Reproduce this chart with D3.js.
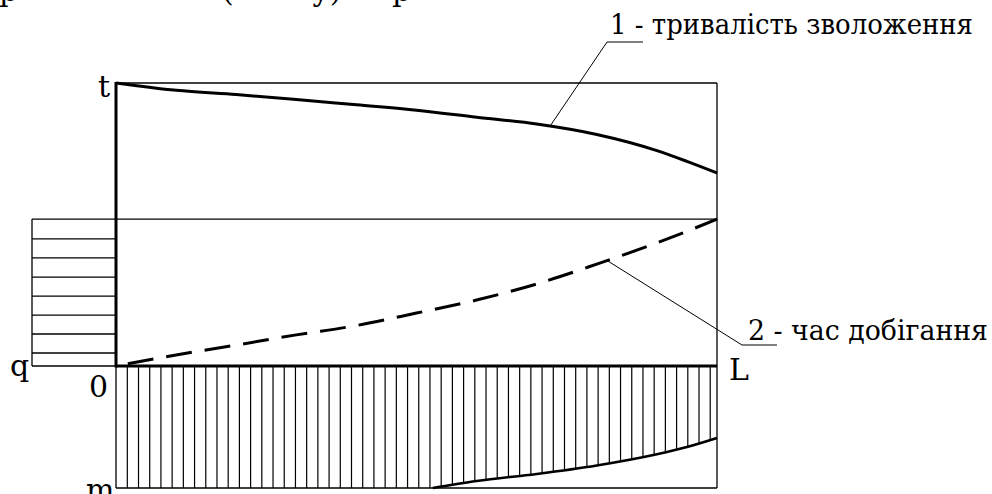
<!DOCTYPE html>
<html><head><meta charset="utf-8">
<script src="https://cdn.jsdelivr.net/npm/d3@7"></script>
<style>
html,body{margin:0;padding:0;background:#fff;}
svg{display:block;}
</style></head>
<body>
<svg id="c" width="992" height="494"></svg>
<script>
// ---- data ----
const xPos = [0, 0.1, 0.2, 0.3, 0.4, 0.5, 0.6, 0.7, 0.8, 0.9, 0.95, 1.0];
const wettingDuration = [1.0, 0.974, 0.959, 0.942, 0.923, 0.904, 0.879, 0.855, 0.818, 0.761, 0.723, 0.682];
const travelTime = [0, 0.039, 0.074, 0.110, 0.143, 0.187, 0.233, 0.290, 0.360, 0.435, 0.476, 0.519];
const mX = [0, 0.527, 0.6, 0.7, 0.8, 0.9, 0.95, 1.0];
const mDepth = [1.0, 1.0, 0.943, 0.885, 0.815, 0.723, 0.664, 0.59];
const rainLevels = [0.519, 0.449, 0.382, 0.314, 0.247, 0.180, 0.113, 0.046, 0];
const axisLabels = ["t", "q", "0", "L", "m"];
const seriesLabels = ["1 - тривалість зволоження", "2 - час добігання"];
const topFragments = ["р", "(", "у)", "р"];

// ---- layout ----
const FONT = "DejaVu Serif";
const svg = d3.select("#c");
const x = d3.scaleLinear().domain([0, 1]).range([116, 717]);
const t = d3.scaleLinear().domain([0, 1]).range([366, 83]);
const mY = d3.scaleLinear().domain([0, 1]).range([366, 488]);
const rainX = [32, 116];

function interp(xs, ys, v){
  for(let i=1;i<xs.length;i++){
    if(v<=xs[i]){const f=(v-xs[i-1])/(xs[i]-xs[i-1]);return ys[i-1]+f*(ys[i]-ys[i-1]);}
  }
  return ys[ys.length-1];
}
function txt(s, px, py, size){
  return svg.append("text").attr("x",px).attr("y",py).attr("font-size",size)
    .style("font-family",FONT).attr("fill","#000").text(s);
}

const fragX = [-1, 222, 312, 392];
topFragments.forEach((s,i)=>{ txt(s, fragX[i], 1, 30); });

const thin = 1.3;
svg.append("line").attr("x1",x(0)).attr("x2",x(1)).attr("y1",t(1)).attr("y2",t(1)).attr("stroke","#000").attr("stroke-width",thin);
svg.append("line").attr("x1",x(1)).attr("x2",x(1)).attr("y1",t(1)).attr("y2",mY(1)).attr("stroke","#000").attr("stroke-width",thin);
svg.append("line").attr("x1",x(0)).attr("x2",x(1)).attr("y1",mY(1)).attr("y2",mY(1)).attr("stroke","#000").attr("stroke-width",thin);
svg.append("line").attr("x1",x(0)).attr("x2",x(0)).attr("y1",mY(0)).attr("y2",mY(1)).attr("stroke","#000").attr("stroke-width",thin);

svg.append("line").attr("x1",rainX[0]).attr("x2",rainX[0]).attr("y1",t(rainLevels[0])).attr("y2",t(0)).attr("stroke","#000").attr("stroke-width",thin);
rainLevels.forEach((v,i)=>{
  svg.append("line").attr("x1",rainX[0]).attr("x2",i===0?x(1):rainX[1])
    .attr("y1",t(v)).attr("y2",t(v)).attr("stroke","#000").attr("stroke-width",thin);
});

const hatchStep = 11.21/601;
const hatch = d3.range(0,53).map(i => (11.3/601) + i*hatchStep);
hatch.forEach(v=>{
  const d = v < mX[1] ? 1 : interp(mX, mDepth, v);
  svg.append("line").attr("x1",x(v)).attr("x2",x(v)).attr("y1",mY(0)).attr("y2",mY(d))
    .attr("stroke","#000").attr("stroke-width",1.2);
});
svg.append("path").datum(mX.map((v,i)=>[v,mDepth[i]]).filter(d=>d[0]>=0.5))
  .attr("d",d3.line().x(d=>x(d[0])).y(d=>mY(d[1])).curve(d3.curveMonotoneX))
  .attr("fill","none").attr("stroke","#000").attr("stroke-width",2.6);

svg.append("line").attr("x1",x(0)).attr("x2",x(0)).attr("y1",t(1)-1).attr("y2",t(0)+1.5).attr("stroke","#000").attr("stroke-width",3);
svg.append("line").attr("x1",x(0)).attr("x2",x(1)).attr("y1",t(0)).attr("y2",t(0)).attr("stroke","#000").attr("stroke-width",3);

svg.append("path").datum(xPos.map((v,i)=>[v,wettingDuration[i]]))
  .attr("d",d3.line().x(d=>x(d[0])).y(d=>t(d[1])).curve(d3.curveMonotoneX))
  .attr("fill","none").attr("stroke","#000").attr("stroke-width",3);
svg.append("path").datum(xPos.map((v,i)=>[v,travelTime[i]]))
  .attr("d",d3.line().x(d=>x(d[0])).y(d=>t(d[1])).curve(d3.curveMonotoneX))
  .attr("fill","none").attr("stroke","#000").attr("stroke-width",3)
  .attr("stroke-dasharray","26,13").attr("stroke-dashoffset",-12);

const a1 = 0.722, a2 = 0.817;
svg.append("path").attr("d",`M${x(a1)},${t(interp(xPos,wettingDuration,a1))}L607,42L643,42`)
  .attr("fill","none").attr("stroke","#000").attr("stroke-width",1);
svg.append("path").attr("d",`M${x(a2)},${t(interp(xPos,travelTime,a2))}L742,345L777,345`)
  .attr("fill","none").attr("stroke","#000").attr("stroke-width",1);

txt(seriesLabels[0], 610, 34, 28).attr("textLength",363).attr("lengthAdjust","spacingAndGlyphs");
txt(seriesLabels[1], 748, 340, 28).attr("textLength",240).attr("lengthAdjust","spacingAndGlyphs");

const lab = [[98,97],[10,376],[89,397],[729,380],[86,500]];
axisLabels.forEach((s,i)=>{ txt(s, lab[i][0], lab[i][1], 30); });
</script>
</body></html>
